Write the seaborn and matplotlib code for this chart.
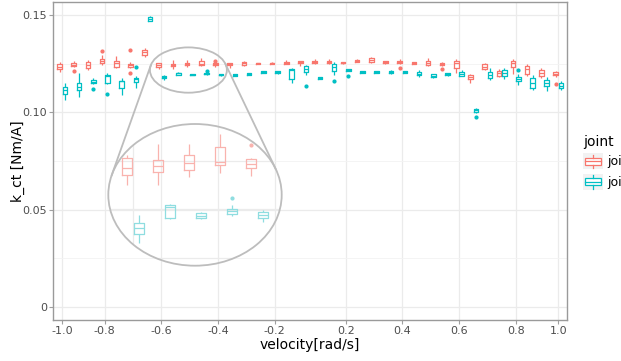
import numpy as np
import pandas as pd
import matplotlib
matplotlib.use("Agg")
import matplotlib.pyplot as plt
import seaborn as sns
from matplotlib.patches import Ellipse, Rectangle
from matplotlib.lines import Line2D
from matplotlib.legend_handler import HandlerBase

# ---------------- data ----------------
velocities = ["-1.0", "-0.93", "-0.87", "-0.8", "-0.75", "-0.7", "-0.65", "-0.6",
              "-0.55", "-0.5", "-0.45", "-0.4", "-0.35", "-0.3", "-0.25", "-0.2",
              "-0.15", "-0.1", "0.1", "0.15", "0.2", "0.25", "0.3", "0.35", "0.4",
              "0.45", "0.5", "0.55", "0.6", "0.65", "0.7", "0.75", "0.8", "0.87",
              "0.93", "1.0"]
tick_labels = ["-1.0", "-0.8", "-0.6", "-0.4", "-0.2", "0.2", "0.4", "0.6", "0.8", "1.0"]
joints = ["joint_1", "joint_2"]

# box statistics: lower whisker, q1, median, q3, upper whisker
j1_lo  = [0.1209, 0.1235, 0.1218, 0.1243, 0.1226, 0.1226, 0.1286, 0.1225, 0.1225, 0.1233, 0.1237, 0.1234,
          0.1226, 0.1239, 0.1249, 0.1250, 0.1250, 0.1236, 0.1247, 0.1248, 0.1251, 0.1257, 0.1252, 0.1251,
          0.1247, 0.1247, 0.1238, 0.1240, 0.1204, 0.1152, 0.1218, 0.1180, 0.1197, 0.1187, 0.1175, 0.1183]
j1_q1  = [0.1221, 0.1240, 0.1228, 0.1254, 0.1235, 0.1233, 0.1295, 0.1235, 0.1238, 0.1241, 0.1246, 0.12428,
          0.1243, 0.1246, 0.1250, 0.1251, 0.1251, 0.1252, 0.1254, 0.1254, 0.1252, 0.1260, 0.1260, 0.1252,
          0.1253, 0.1249, 0.1244, 0.1243, 0.1226, 0.1170, 0.1224, 0.1187, 0.1232, 0.1197, 0.1188, 0.1190]
j1_med = [0.1235, 0.1246, 0.1243, 0.1265, 0.1252, 0.1243, 0.1309, 0.1243, 0.1245, 0.1248, 0.1249, 0.1247,
          0.1250, 0.1252, 0.1252, 0.1253, 0.1255, 0.1257, 0.1260, 0.1259, 0.1256, 0.1265, 0.1269, 0.1257,
          0.1259, 0.1255, 0.1254, 0.1250, 0.1252, 0.1180, 0.1235, 0.1201, 0.1252, 0.1223, 0.1204, 0.1199]
j1_q3  = [0.1249, 0.1252, 0.1259, 0.1276, 0.1265, 0.1251, 0.1321, 0.1253, 0.1251, 0.1256, 0.1264, 0.12515,
          0.1255, 0.1257, 0.1255, 0.1256, 0.1259, 0.1263, 0.1265, 0.1265, 0.1260, 0.1271, 0.1278, 0.1262,
          0.1264, 0.1260, 0.1264, 0.1255, 0.1264, 0.1192, 0.1247, 0.1214, 0.1264, 0.1238, 0.1218, 0.1209]
j1_hi  = [0.1260, 0.1264, 0.1269, 0.1295, 0.1290, 0.1260, 0.1329, 0.1256, 0.1267, 0.1267, 0.1278, 0.1253,
          0.1256, 0.1265, 0.1256, 0.1257, 0.1267, 0.1265, 0.1276, 0.1274, 0.1261, 0.1274, 0.1286, 0.1263,
          0.1276, 0.1261, 0.1265, 0.1258, 0.1273, 0.1195, 0.1255, 0.1221, 0.1276, 0.1249, 0.1226, 0.1214]

j2_lo  = [0.1063, 0.1080, 0.1146, 0.1144, 0.1089, 0.1146, 0.1468, 0.1165, 0.1190, 0.1190, 0.1193, 0.1187,
          0.1187, 0.1191, 0.1200, 0.1199, 0.1149, 0.1192, 0.1172, 0.1192, 0.1211, 0.1201, 0.1201, 0.1196,
          0.1201, 0.1180, 0.1179, 0.1189, 0.1185, 0.0999, 0.1166, 0.1170, 0.1140, 0.1115, 0.1111, 0.1115]
j2_q1  = [0.1093, 0.1115, 0.1149, 0.1153, 0.1124, 0.1156, 0.1471, 0.1175, 0.1191, 0.1191, 0.1195, 0.1191,
          0.1188, 0.1192, 0.1201, 0.1202, 0.1170, 0.1209, 0.1173, 0.1214, 0.1212, 0.1202, 0.1202, 0.1201,
          0.1202, 0.1192, 0.1180, 0.1190, 0.1187, 0.1001, 0.1175, 0.1187, 0.1161, 0.1124, 0.1135, 0.1124]
j2_med = [0.1115, 0.1132, 0.1157, 0.1188, 0.1160, 0.1170, 0.1482, 0.1181, 0.1202, 0.1193, 0.1198, 0.1194,
          0.1193, 0.1197, 0.1206, 0.1207, 0.1218, 0.1222, 0.1178, 0.1235, 0.1217, 0.1205, 0.1205, 0.1207,
          0.1207, 0.1199, 0.1188, 0.1196, 0.1197, 0.1010, 0.1192, 0.1204, 0.1173, 0.1149, 0.1149, 0.1135]
j2_q3  = [0.1129, 0.1152, 0.1166, 0.1191, 0.1163, 0.1178, 0.1492, 0.1186, 0.1204, 0.1196, 0.1200, 0.1197,
          0.1197, 0.1202, 0.1211, 0.1212, 0.1221, 0.1238, 0.1183, 0.1247, 0.1223, 0.1211, 0.1211, 0.1214,
          0.1212, 0.1206, 0.1197, 0.1202, 0.1207, 0.1017, 0.1209, 0.1218, 0.1183, 0.1175, 0.1166, 0.1149]
j2_hi  = [0.1149, 0.1201, 0.1175, 0.1204, 0.1175, 0.1187, 0.1495, 0.1194, 0.1206, 0.1197, 0.1204, 0.1199,
          0.1198, 0.1203, 0.1212, 0.1215, 0.1226, 0.1245, 0.1184, 0.1260, 0.1224, 0.1212, 0.1212, 0.1217,
          0.1213, 0.1218, 0.1198, 0.1203, 0.1218, 0.1020, 0.1226, 0.1226, 0.1197, 0.1192, 0.1180, 0.1163]

# outliers: (velocity index, value)
j1_outliers = [(1, 0.1214), (3, 0.1315), (5, 0.13205), (5, 0.1204), (11, 0.12663),
               (24, 0.1230), (26, 0.1281), (27, 0.12227), (35, 0.1144)]
j2_outliers = [(2, 0.1121), (3, 0.1094), (5, 0.12346), (5, 0.1127), (10, 0.12113),
               (17, 0.1135), (19, 0.1163), (20, 0.11867), (29, 0.0975), (32, 0.1218)]

palette = ["#F8766D", "#00BFC4"]
palette_light = ["#F9B3AE", "#8FDDE0"]

# ---------------- build long table ----------------
rows = []
for joint, lo, q1, md, q3, hi, outs in [
        (joints[0], j1_lo, j1_q1, j1_med, j1_q3, j1_hi, j1_outliers),
        (joints[1], j2_lo, j2_q1, j2_med, j2_q3, j2_hi, j2_outliers)]:
    for i, v in enumerate(velocities):
        low_end, high_end = lo[i], hi[i]
        for k, val in outs:
            if k == i:
                if val < md[i]:
                    low_end = val
                else:
                    high_end = val
        sample = [low_end, lo[i], q1[i], md[i], md[i], md[i], q3[i], hi[i], high_end]
        for s in sample:
            rows.append({"velocity": v, "k_ct": s, "joint": joint})
df = pd.DataFrame(rows)

# ---------------- figure ----------------
W, H = 621, 361
fig = plt.figure(figsize=(W / 100, H / 100), dpi=100)
ax = fig.add_axes([53.3 / W, 1 - 320 / H, (566.7 - 53.3) / W, (320 - 1.7) / H])

box_kws = dict(x="velocity", y="k_ct", hue="joint", order=velocities, hue_order=joints,
               fill=False, width=0.76, gap=0.15, linewidth=0.9, fliersize=2.0,
               whis=1.5, legend=False, capprops={"visible": False})
sns.boxplot(data=df, palette=palette, ax=ax, **box_kws)
for ln in ax.lines:
    if ln.get_marker() == "o":
        ln.set_markerfacecolor(ln.get_markeredgecolor())

ax.set_xlim(-0.635, 35.6)
ax.set_ylim(-0.0068, 0.1569)
ax.set_facecolor("white")
tick_idx = [velocities.index(t) for t in tick_labels]
ax.set_xticks(tick_idx)
ax.set_xticklabels(tick_labels)
ax.set_yticks([0, 0.05, 0.10, 0.15])
ax.set_yticklabels(["0", "0.05", "0.10", "0.15"])
ax.set_yticks([0.025, 0.075, 0.125], minor=True)
ax.set_axisbelow(True)
ax.grid(which="major", color="#ebebeb", linewidth=0.9)
ax.grid(which="minor", axis="y", color="#f3f3f3", linewidth=0.6)
ax.tick_params(which="major", length=3, width=0.8, color="#a0a0a0",
               labelcolor="#4d4d4d", labelsize=8, pad=1.5)
ax.tick_params(which="minor", length=0)
for sp in ax.spines.values():
    sp.set_color("#9a9a9a")
    sp.set_linewidth(1.0)
ax.set_xlabel("velocity[rad/s]", fontsize=10, labelpad=1)
ax.set_ylabel("k_ct [Nm/A]", fontsize=10, labelpad=-1.5)

# ---------------- zoom inset ----------------
inset = fig.add_axes([108.3 / W, 1 - 265.7 / H, 173.4 / W, 141.7 / H])
sns.boxplot(data=df, palette=palette_light, ax=inset, **box_kws)
for ln in inset.lines:
    if ln.get_marker() == "o":
        ln.set_markerfacecolor(ln.get_markeredgecolor())
inset.set_xlim(6.21, 11.81)
inset.set_ylim(0.11419, 0.1288)
inset.axvline(7, color="#ebebeb", linewidth=0.9, zorder=0)
for yv in [0.115, 0.120, 0.125]:
    inset.axhline(yv, color="#ebebeb", linewidth=0.9, zorder=0)
inset.set_axis_off()
clip = Ellipse((0.5, 0.5), 1, 1, transform=inset.transAxes)
for art in inset.get_children():
    try:
        art.set_clip_path(clip)
    except Exception:
        pass
big = Ellipse((0.5, 0.5), 1, 1, transform=inset.transAxes, fill=False,
              edgecolor="#bdbdbd", linewidth=1.3, zorder=10)
big.set_clip_on(False)
inset.add_patch(big)

# small ellipse on the main axes
sc, sv, sw, sh = 8.9, 0.12175, 5.43, 0.0233
small = Ellipse((sc, sv), sw, sh, fill=False, edgecolor="#bdbdbd", linewidth=1.3, zorder=6)
small.set_clip_on(False)
ax.add_patch(small)

# tangent connector lines (computed in display space)
p = ax.transData.transform([(sc - sw / 2, sv - sh / 2), (sc + sw / 2, sv + sh / 2)])
c1 = p.mean(axis=0); a1, b1 = (p[1] - p[0]) / 2
q = fig.transFigure.transform(np.array(inset.get_position().get_points()))
c2 = q.mean(axis=0); a2, b2 = (q[1] - q[0]) / 2
th = np.linspace(0, 2 * np.pi, 200001)
ct, st = np.cos(th), np.sin(th)
s1 = np.sqrt(a1 ** 2 * ct ** 2 + b1 ** 2 * st ** 2)
s2 = np.sqrt(a2 ** 2 * ct ** 2 + b2 ** 2 * st ** 2)
f = ct * (c1[0] - c2[0]) + st * (c1[1] - c2[1]) + s1 - s2
roots = np.where(np.sign(f[:-1]) != np.sign(f[1:]))[0]
for r in roots:
    t1 = c1 + np.array([a1 ** 2 * ct[r], b1 ** 2 * st[r]]) / s1[r]
    t2 = c2 + np.array([a2 ** 2 * ct[r], b2 ** 2 * st[r]]) / s2[r]
    pts = fig.transFigure.inverted().transform([t1, t2])
    fig.add_artist(Line2D(pts[:, 0], pts[:, 1], color="#bdbdbd", linewidth=1.3,
                          transform=fig.transFigure, zorder=20))


# ---------------- legend ----------------
class BoxHandler(HandlerBase):
    def create_artists(self, legend, orig_handle, xdescent, ydescent, width, height, fontsize, trans):
        col = orig_handle.get_edgecolor()
        x0, y0 = -xdescent, -ydescent
        bg = Rectangle((x0, y0), width, height, facecolor="#f2f2f2", edgecolor="none", transform=trans)
        bx = Rectangle((x0 + 0.12 * width, y0 + 0.28 * height), 0.76 * width, 0.44 * height,
                       facecolor="white", edgecolor=col, linewidth=0.9, transform=trans)
        med = Line2D([x0 + 0.12 * width, x0 + 0.88 * width], [y0 + 0.5 * height] * 2,
                     color=col, linewidth=0.9, transform=trans)
        w1 = Line2D([x0 + 0.5 * width] * 2, [y0 + 0.08 * height, y0 + 0.28 * height],
                    color=col, linewidth=0.9, transform=trans)
        w2 = Line2D([x0 + 0.5 * width] * 2, [y0 + 0.72 * height, y0 + 0.92 * height],
                    color=col, linewidth=0.9, transform=trans)
        return [bg, bx, med, w1, w2]


handles = [Rectangle((0, 0), 1, 1, facecolor="white", edgecolor=c) for c in palette]
fig.legend(handles, joints, title="joint", loc="upper left",
           bbox_to_anchor=(578 / W, 1 - 130 / H), frameon=False,
           handler_map={Rectangle: BoxHandler()}, fontsize=9, title_fontsize=10,
           handlelength=1.6, handleheight=1.6, labelspacing=0.35, handletextpad=0.35,
           alignment="left", borderaxespad=0)

fig.savefig("out.png", dpi=100)
